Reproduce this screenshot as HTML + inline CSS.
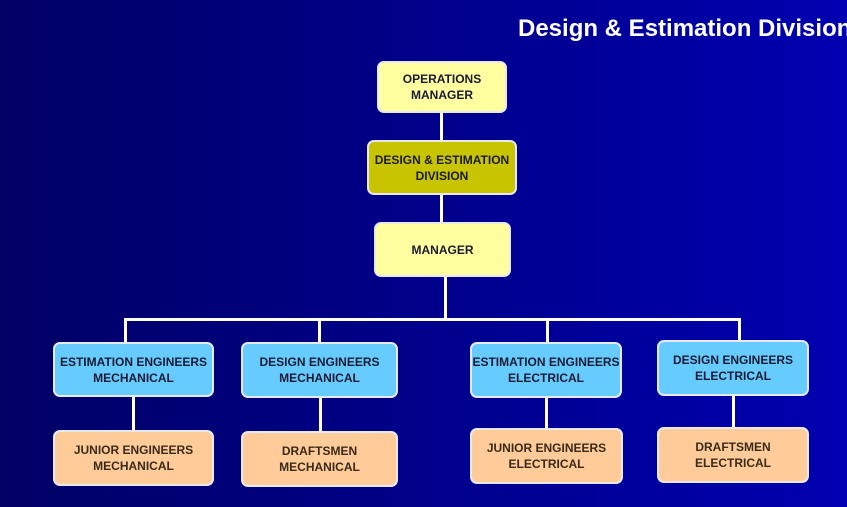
<!DOCTYPE html>
<html><head><style>
html,body{margin:0;padding:0}
body{width:847px;height:507px;overflow:hidden;position:relative;background:linear-gradient(90deg,#000064 0%,#00008a 50%,#0000b0 100%);font-family:"Liberation Sans",Arial,sans-serif}
.t{position:absolute;left:518px;top:15px;color:#fff;font-weight:bold;font-size:24px;white-space:nowrap}
.b{position:absolute;box-sizing:border-box;border:2px solid #e8e8f0;border-radius:7px;display:flex;align-items:center;justify-content:center;text-align:center;font-weight:bold;font-size:12px;line-height:16px;color:#1a1a33}
.y{background:#ffffa0}.o{background:#c8c400}.c{background:#66ccff}.p{background:#ffcc99;color:#3a2a1a}
.l{position:absolute;background:#fff}
</style></head><body>
<div class="t">Design &amp; Estimation Division</div>
<div class="l" style="left:440px;top:110px;width:3px;height:115px"></div>
<div class="l" style="left:444px;top:274px;width:3px;height:47px"></div>
<div class="l" style="left:124px;top:318px;width:617px;height:3px"></div>
<div class="l" style="left:124px;top:318px;width:3px;height:26px"></div>
<div class="l" style="left:318px;top:318px;width:3px;height:26px"></div>
<div class="l" style="left:546px;top:318px;width:3px;height:26px"></div>
<div class="l" style="left:738px;top:318px;width:3px;height:24px"></div>
<div class="l" style="left:132px;top:394px;width:3px;height:38px"></div>
<div class="l" style="left:319px;top:395px;width:3px;height:38px"></div>
<div class="l" style="left:545px;top:395px;width:3px;height:35px"></div>
<div class="l" style="left:732px;top:393px;width:3px;height:36px"></div>
<div class="b y" style="left:377px;top:61px;width:130px;height:52px">OPERATIONS<br>MANAGER</div>
<div class="b o" style="left:367px;top:140px;width:150px;height:55px">DESIGN &amp; ESTIMATION<br>DIVISION</div>
<div class="b y" style="left:374px;top:222px;width:137px;height:55px">MANAGER</div>
<div class="b c" style="left:53px;top:342px;width:161px;height:55px">ESTIMATION ENGINEERS<br>MECHANICAL</div>
<div class="b c" style="left:241px;top:342px;width:157px;height:56px">DESIGN ENGINEERS<br>MECHANICAL</div>
<div class="b c" style="left:470px;top:342px;width:152px;height:56px">ESTIMATION ENGINEERS<br>ELECTRICAL</div>
<div class="b c" style="left:657px;top:340px;width:152px;height:56px">DESIGN ENGINEERS<br>ELECTRICAL</div>
<div class="b p" style="left:53px;top:430px;width:161px;height:56px">JUNIOR ENGINEERS<br>MECHANICAL</div>
<div class="b p" style="left:241px;top:431px;width:157px;height:56px">DRAFTSMEN<br>MECHANICAL</div>
<div class="b p" style="left:470px;top:428px;width:153px;height:56px">JUNIOR ENGINEERS<br>ELECTRICAL</div>
<div class="b p" style="left:657px;top:427px;width:152px;height:56px">DRAFTSMEN<br>ELECTRICAL</div>
</body></html>
